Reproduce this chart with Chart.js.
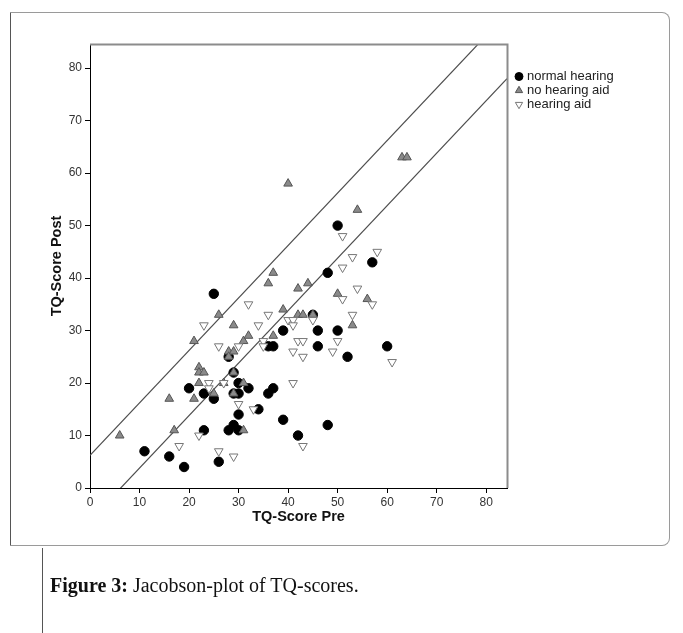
<!DOCTYPE html>
<html>
<head>
<meta charset="utf-8">
<script src="https://cdn.jsdelivr.net/npm/chart.js@4.4.0/dist/chart.umd.min.js"></script>
<style>
  html, body { margin: 0; padding: 0; background: #fff; }
  #wrap { position: relative; width: 683px; height: 633px; overflow: hidden; }
  #chart { position: absolute; left: 0; top: 0; }
  #frame { position: absolute; left: 10px; top: 12px; width: 658px; height: 532px;
           border: 1px solid #9a9a9a; border-left-color: #555; border-radius: 0 8px 8px 0; }
  #capline { position: absolute; left: 42px; top: 548px; width: 0; height: 90px; border-left: 1px solid #555; }
  #caption { position: absolute; left: 50px; top: 574px; font-family: "Liberation Serif", "Times New Roman", serif;
             font-size: 20px; color: #111; }
  #legend { position: absolute; left: 514px; top: 69px; font-family: "Liberation Sans", Arial, sans-serif;
            font-size: 13px; color: #222; }
  #legend div { height: 14px; line-height: 14px; white-space: nowrap; }
  #legend canvas { vertical-align: middle; margin-right: 3px; position: relative; top: -1px; }
</style>
</head>
<body>
<div id="wrap">
  <div id="frame"></div>
  <div id="capline"></div>
  <canvas id="chart" width="683" height="633"></canvas>
  <div id="legend"></div>
  <div id="caption"><b>Figure 3:</b> Jacobson-plot of TQ-scores.</div>
</div>
<script>
// values (TQ-score before / after)
const normalPre  = [11,16,19,20,23,23,25,25,26,28,28,29,29,29,30,30,30,30,32,34,36,37,36,37,39,39,42,45,46,46,48,48,50,50,52,57,60];
const normalPost = [7,6,4,19,18,11,37,17,5,25,11,22,18,12,20,18,14,11,19,15,27,27,18,19,30,13,10,33,30,27,41,12,50,30,25,43,27];

const noAidPre  = [6,16,17,21,21,22,22,23,22,25,26,27,28,29,28,29,29,29,31,32,31,31,36,37,37,39,40,42,44,42,43,45,50,53,54,56,63,64];
const noAidPost = [10,17,11,28,17,23,22,22,20,18,33,20,26,26,25,22,18,31,28,29,11,20,39,41,29,34,58,38,39,33,33,33,37,31,53,36,63,63];

const aidPre  = [18,22,23,24,24,26,26,27,29,30,30,32,33,34,35,35,36,40,41,41,41,41,42,43,43,43,45,49,50,51,51,51,53,53,54,57,58,61];
const aidPost = [8,10,31,20,19,27,7,20,6,27,16,35,15,31,28,27,33,32,32,31,26,20,28,28,25,8,32,26,28,36,42,48,33,44,38,35,45,24];

// Jacobson band (reliable change limits), end points
const bandX = [0, 84.2];
const upperY = [6.2, 90.4];
const lowerY = [-6.2, 78.0];

const seriesNames = ['normal hearing', 'no hearing aid', 'hearing aid'];
const tickValues = [0, 10, 20, 30, 40, 50, 60, 70, 80];

const toPoints = (xs, ys) => xs.map((x, i) => ({ x: x, y: ys[i] }));

const FONT = '"Liberation Sans", Arial, sans-serif';

const frameLines = {
  id: 'frameLines',
  afterDraw(chart) {
    const a = chart.chartArea, ctx = chart.ctx;
    ctx.save();
    ctx.strokeStyle = '#8c8c8c';
    ctx.lineWidth = 2;
    ctx.beginPath();
    ctx.moveTo(a.left, a.top + 0.5);
    ctx.lineTo(a.right + 0.5, a.top + 0.5);
    ctx.lineTo(a.right + 0.5, a.bottom);
    ctx.stroke();
    ctx.restore();
  }
};

const styles = [
  { pointStyle: 'circle', radius: 4.7, backgroundColor: '#000', borderColor: '#000', rotation: 0 },
  { pointStyle: 'triangle', radius: 5, backgroundColor: '#8a8a8a', borderColor: '#555', rotation: 0 },
  { pointStyle: 'triangle', radius: 5, backgroundColor: '#fff', borderColor: '#777', rotation: 180 }
];

const scatterData = [toPoints(normalPre, normalPost), toPoints(noAidPre, noAidPost), toPoints(aidPre, aidPost)];

const datasets = scatterData.map((pts, i) => ({
  type: 'scatter',
  label: seriesNames[i],
  data: pts,
  pointStyle: styles[i].pointStyle,
  pointRadius: styles[i].radius,
  pointRotation: styles[i].rotation,
  pointBackgroundColor: styles[i].backgroundColor,
  pointBorderColor: styles[i].borderColor,
  pointBorderWidth: 1,
  order: 3 - i
}));

datasets.push(
  { type: 'line', label: 'upper', data: toPoints(bandX, upperY), borderColor: '#4d4d4d', borderWidth: 1.2, pointRadius: 0, order: 10 },
  { type: 'line', label: 'lower', data: toPoints(bandX, lowerY), borderColor: '#4d4d4d', borderWidth: 1.2, pointRadius: 0, order: 10 }
);

const chart = new Chart(document.getElementById('chart'), {
  data: { datasets: datasets },
  options: {
    responsive: false,
    animation: false,
    events: [],
    layout: { padding: { left: 44, top: 44, right: 176, bottom: 103 } },
    plugins: { legend: { display: false }, tooltip: { enabled: false } },
    scales: {
      x: {
        type: 'linear', min: 0, max: 84.2,
        afterFit: (s) => { s.height = 42; },
        afterBuildTicks: (s) => { s.ticks = tickValues.map(v => ({ value: v })); },
        border: { color: '#000', width: 1 },
        grid: { drawOnChartArea: false, tickLength: 5, color: '#000' },
        ticks: { color: '#333', font: { family: FONT, size: 12 }, padding: 2 },
        title: { display: true, text: 'TQ-Score Pre', color: '#111', font: { family: FONT, size: 14.5, weight: 'bold' }, padding: { top: 1 } }
      },
      y: {
        type: 'linear', min: 0, max: 84.6,
        afterFit: (s) => { s.width = 46; },
        afterBuildTicks: (s) => { s.ticks = tickValues.map(v => ({ value: v })); },
        border: { color: '#000', width: 1 },
        grid: { drawOnChartArea: false, tickLength: 5, color: '#000' },
        ticks: { color: '#333', font: { family: FONT, size: 12 }, padding: 3 },
        title: { display: true, text: 'TQ-Score Post', color: '#111', font: { family: FONT, size: 14.5, weight: 'bold' }, padding: { bottom: 0 } }
      }
    }
  },
  plugins: [frameLines]
});

// legend built from the same series names and marker styles
const legend = document.getElementById('legend');
seriesNames.forEach((name, i) => {
  const row = document.createElement('div');
  const c = document.createElement('canvas');
  c.width = 10; c.height = 10;
  const g = c.getContext('2d');
  g.fillStyle = styles[i].backgroundColor;
  g.strokeStyle = styles[i].borderColor;
  g.lineWidth = 1;
  Chart.helpers.drawPoint(g, { pointStyle: styles[i].pointStyle, radius: i === 0 ? 4 : 4.2, rotation: styles[i].rotation, borderWidth: 1 }, 5, 5.5);
  row.appendChild(c);
  row.appendChild(document.createTextNode(name));
  legend.appendChild(row);
});
</script>
</body>
</html>
